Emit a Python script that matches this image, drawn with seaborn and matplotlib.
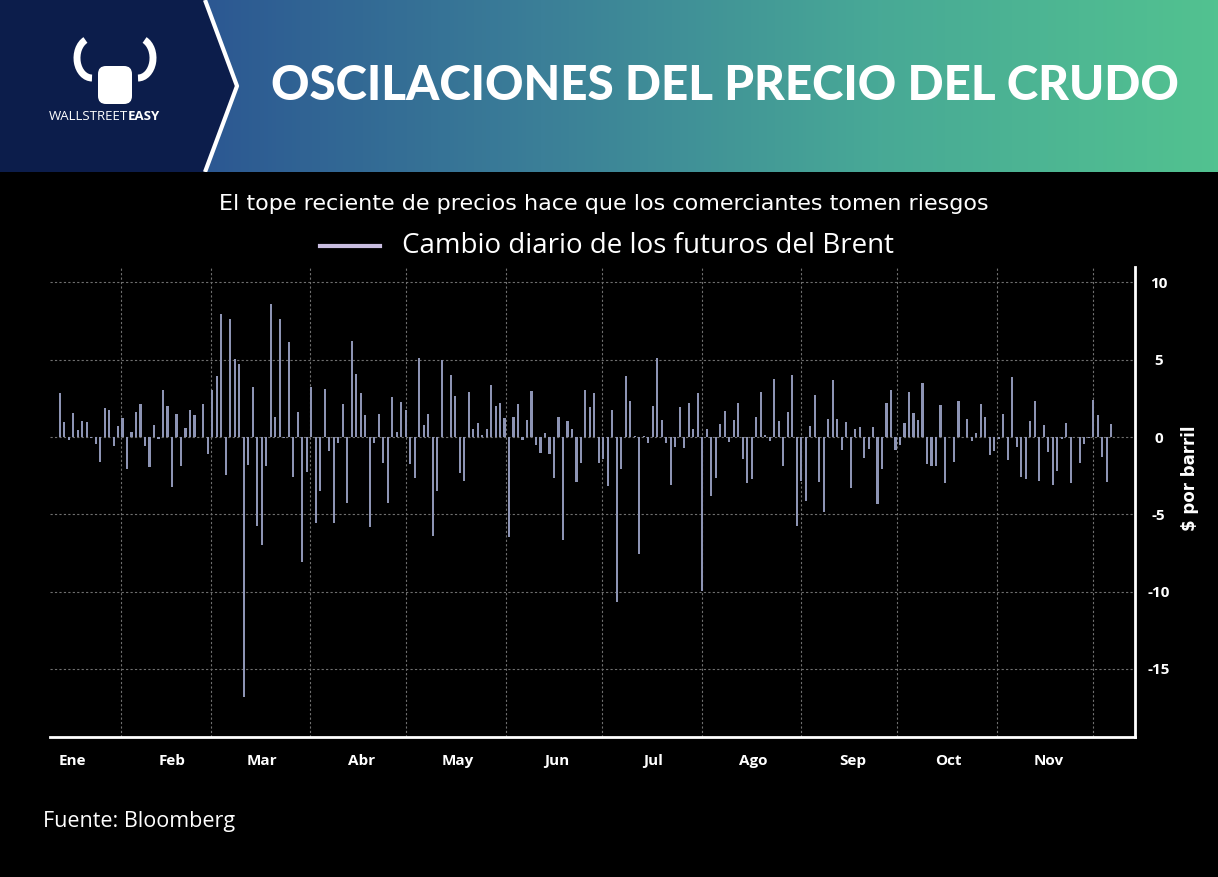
import matplotlib
matplotlib.use('Agg')
import matplotlib.pyplot as plt
import matplotlib.dates as mdates
from matplotlib.colors import LinearSegmentedColormap
from matplotlib.lines import Line2D
from matplotlib.patches import Polygon, FancyBboxPatch, Arc
import numpy as np
import pandas as pd
import seaborn as sns

# Daily change of Brent futures ($/barrel), left to right
jan_feb = [2.86, 0.97, -0.19, 1.53, 0.45, 1.03, 0.97, -0.05, -0.45, -1.61,
           1.87, 1.74, -0.58, 0.71, 1.25, -2.06, 0.30, 1.61, 2.13, -0.58,
           -1.91, 0.77, -0.11, 3.03, 2.00, -3.20, 1.48, -1.87, 0.58, 1.78]
feb_mar = [1.40, 0.0, 2.17, -1.12, 3.03, 3.94, 7.98, -2.43, 7.66, 5.08,
           4.75, -16.8, -1.78, 3.27, -5.72, -6.95, -1.85, 8.58, 1.29, 7.66,
           -0.09, 6.13, -2.56, 1.59, -8.11, -2.24, 3.23, -5.53, -3.51, 3.10]
apr_may = [-0.88, -5.57, -0.41, 2.17, -4.28, 6.19, 4.11, 2.88, 1.40, -5.83,
           -0.41, 1.46, -1.66, -4.28, 2.62, 0.30, 2.24, 1.74, -1.72, -2.65,
           5.14, 0.77, 1.48, -6.43, -3.46, 5.01, 0.0, 4.04, 2.65, -2.30]
may_jun = [-2.82, 2.90, 0.52, 0.90, 0.13, 0.54, 3.35, 2.00, 2.19, 1.23,
           -6.49, 1.31, 2.11, -0.17, 1.10, 2.99, -0.49, -1.01, 0.26, -1.10,
           -2.62, 1.31, -6.65, 1.03, 0.52, -2.88, -1.66, 3.05, 1.96, 2.84]
jun_aug = [-1.70, -1.40, -3.14, 1.78, -10.69, -2.04, 3.94, 2.32, 0.06, -7.57,
           0.06, -0.41, 2.00, 5.10, 1.08, -0.37, -3.08, -0.62, 1.94, -0.69,
           2.19, 0.52, 2.84, -9.96, 0.49, -3.78, -2.65, 0.84, 1.68, -0.30]
aug_sep = [1.08, 2.19, -1.40, -2.99, -2.73, 1.29, 2.90, 0.13, -0.24, 3.74,
           1.03, -1.85, 1.61, 4.04, -5.72, -2.82, -4.11, 0.71, 2.71, -2.90,
           -4.82, 1.16, 3.68, 1.16, -0.84, 0.97, -3.27, 0.52, 0.65, -1.33]
sep_oct = [-0.77, 0.65, -4.30, -2.06, 2.19, 3.03, -0.82, -0.49, 0.90, 2.90,
           1.57, 1.10, 3.48, -1.72, -1.85, -1.85, 2.06, -2.95, 0.0, -1.59,
           2.32, 0.0, 1.16, -0.24, 0.26, 2.13, 1.29, -1.14, -0.88, -0.13]
nov_dec = [1.48, -1.46, 3.87, -0.62, -2.56, -2.69, 1.03, 2.32, -2.82, 0.77,
           -0.95, -3.08, -2.17, -0.11, 0.90, -2.95, 0.0, -1.66, -0.43, -0.09,
           2.39, 1.42, -1.27, -2.88, 0.84]

changes = jan_feb + feb_mar + apr_may + may_jun + jun_aug + aug_sep + sep_oct + nov_dec
first_day = '2022-01-13'

month_labels = ['Ene', 'Feb', 'Mar', 'Abr', 'May', 'Jun', 'Jul', 'Ago', 'Sep', 'Oct', 'Nov']
y_ticks = [10, 5, 0, -5, -10, -15]

title = 'OSCILACIONES DEL PRECIO DEL CRUDO'
subtitle = 'El tope reciente de precios hace que los comerciantes tomen riesgos'
series_name = 'Cambio diario de los futuros del Brent'
y_label = '$ por barril'
source = 'Fuente: Bloomberg'

# Colours
bar_color = '#8d94b4'
legend_color = '#c9bde0'
navy = '#0c1d4b'
grid_color = '#6f6f6f'

# Trading days are drawn evenly spaced (5 sessions per calendar week)
start_num = mdates.date2num(pd.Timestamp(first_day))
df = pd.DataFrame({'pos': start_num + np.arange(len(changes)) * 7 / 5, 'change': changes})

W, H = 1218, 877
fig = plt.figure(figsize=(W / 100, H / 100), dpi=100)
fig.patch.set_facecolor('black')
plt.rcParams['axes.unicode_minus'] = False

def fx(px):
    return px / W

def fy(py):
    return 1 - py / H

# ---- header band ----
hdr = fig.add_axes([0, fy(172), 1, 172 / H])
hdr.axis('off')
grad = LinearSegmentedColormap.from_list('hdr', ['#2c5892', '#3b7f98', '#48a996', '#52c290'])
hdr.imshow(np.linspace(0, 1, 256)[None, :], cmap=grad, extent=[205, W, 172, 0], aspect='auto')
hdr.add_patch(Polygon([(0, 0), (205, 0), (237, 86), (205, 172), (0, 172)], closed=True,
                      facecolor=navy, edgecolor='none'))
hdr.plot([205, 237, 205], [0, 86, 172], color='white', lw=3, solid_capstyle='butt')
hdr.set_xlim(0, W)
hdr.set_ylim(172, 0)

# simple bull logo
hdr.add_patch(Arc((92, 58), 30, 40, theta1=90, theta2=250, color='white', lw=5))
hdr.add_patch(Arc((138, 58), 30, 40, theta1=-70, theta2=90, color='white', lw=5))
hdr.add_patch(FancyBboxPatch((100, 68), 30, 34, boxstyle='round,pad=2,rounding_size=8',
                             facecolor='white', edgecolor='none'))
hdr.text(128, 117, 'WALLSTREET', color='white', fontsize=9.5, ha='right', va='center',
         family='Open Sans')
hdr.text(128, 117, 'EASY', color='white', fontsize=9.5, ha='left', va='center',
         family='Open Sans', fontweight='bold')
hdr.text(725, 86, title, color='white', fontsize=34.2, fontweight='black', family='Lato',
         ha='center', va='center')

# ---- main chart ----
ax = fig.add_axes([fx(50), fy(737), fx(1135 - 50), (737 - 267) / H])
ax.set_facecolor('black')
sns.barplot(data=df, x='pos', y='change', native_scale=True, width=0.47,
            color=bar_color, saturation=1, linewidth=0, errorbar=None, ax=ax)

ax.set_ylim(-19.4, 11)
ax.set_xlim(mdates.date2num(pd.Timestamp('2022-01-10')), mdates.date2num(pd.Timestamp('2022-12-14')))

month_starts = pd.date_range('2022-02-01', '2022-12-01', freq='MS')
mid_months = pd.date_range('2022-01-01', '2022-11-01', freq='MS') + pd.Timedelta(days=16)
ax.set_xticks(mdates.date2num(month_starts))
ax.set_xticklabels([])
ax.set_xticks(mdates.date2num(mid_months), minor=True)
ax.set_xticklabels(month_labels, minor=True, color='white', fontsize=11, fontweight='bold',
                   family='Open Sans')
ax.tick_params(axis='x', which='both', length=0, pad=12)

ax.yaxis.tick_right()
ax.set_yticks(y_ticks)
ax.set_yticklabels([str(t) for t in y_ticks], color='white', fontsize=11, fontweight='bold',
                   family='Open Sans', ha='center')
ax.tick_params(axis='y', length=0, pad=17)

ax.grid(True, which='major', color=grid_color, linestyle=(0, (2, 2)), linewidth=0.8)
ax.set_axisbelow(True)
ax.set_xlabel('')
ax.set_ylabel('')
for side in ['left', 'top']:
    ax.spines[side].set_visible(False)
for side in ['right', 'bottom']:
    ax.spines[side].set_color('white')
    ax.spines[side].set_linewidth(2)

# ---- texts ----
fig.text(fx(1190), fy(478), y_label, rotation=90, color='white', fontsize=12,
         fontweight='bold', family=['Liberation Sans Narrow', 'DejaVu Sans'],
         ha='center', va='center')
fig.text(fx(604), fy(204), subtitle, color='white', fontsize=16, family='DejaVu Sans',
         ha='center', va='center')
fig.add_artist(Line2D([fx(320), fx(380)], [fy(246), fy(246)], color=legend_color, lw=3))
fig.text(fx(402), fy(246), series_name, color='white', fontsize=20, family='Open Sans',
         ha='left', va='center')
fig.text(fx(43), fy(821), source, color='white', fontsize=15.5, family='Open Sans',
         ha='left', va='center')

fig.savefig('out.png', dpi=100, facecolor='black')
